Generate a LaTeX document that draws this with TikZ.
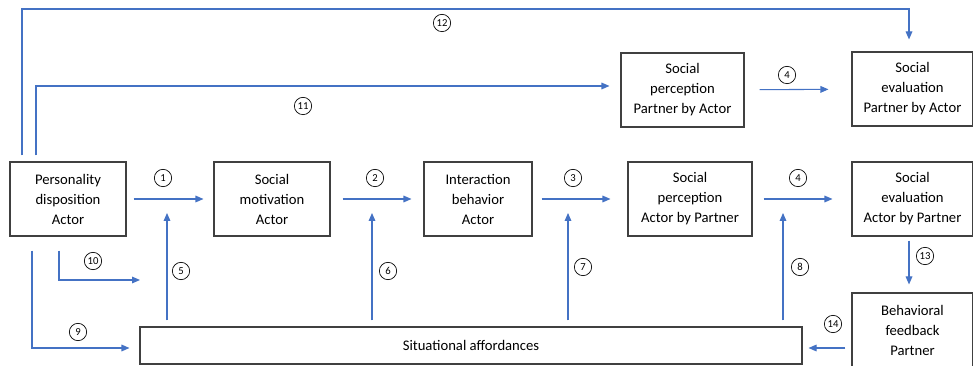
\documentclass[tikz,border=0pt]{standalone}
\usepackage{fontspec}
\setmainfont{Carlito}
\usetikzlibrary{arrows.meta}
\definecolor{arrowblue}{HTML}{4472C4}
\definecolor{boxgray}{HTML}{404040}

\begin{document}
\begin{tikzpicture}[x=0.75pt,y=-0.75pt,
    box/.style={draw=boxgray,line width=0.8pt,align=center,minimum height=55.5pt,
      font=\fontsize{11}{15}\selectfont,inner sep=0pt},
    arr/.style={draw=arrowblue,line width=0.8pt,-{Triangle[length=6pt,width=5pt]}},
    num/.style={draw=black,circle,line width=0.5pt,minimum size=13pt,inner sep=0pt,
      font=\fontsize{8}{8}\selectfont}]
    \useasboundingbox (0,0) rectangle (973,366);

    % The boxes of the actor row
    \node[box,minimum width=87pt] (pd) at (68,199) {Personality\\disposition\\Actor};
    \node[box,minimum width=87pt] (sm) at (272,199) {Social\\motivation\\Actor};
    \node[box,minimum width=81pt] (ib) at (478,199) {Interaction\\behavior\\Actor};
    \node[box,minimum width=93pt] (spa) at (690,199) {Social\\perception\\Actor by Partner};
    \node[box,minimum width=90.75pt] (sea) at (912.5,199) {Social\\evaluation\\Actor by Partner};

    % The boxes of the partner
    \node[box,minimum width=92.25pt] (spp) at (682.5,90) {Social\\perception\\Partner by Actor};
    \node[box,minimum width=90.75pt] (sep) at (912.5,89) {Social\\evaluation\\Partner by Actor};
    \node[box,minimum width=90.75pt] (bf) at (912.5,330) {Behavioral\\feedback\\Partner};

    % The situation
    \node[box,minimum width=496.5pt,minimum height=27.75pt] (sa) at (471,345.5) {Situational affordances};

    % Corners and tips of the arrows
    \coordinate (c5) at (167,213);
    \coordinate (c6) at (372,213);
    \coordinate (c7) at (568,213);
    \coordinate (c8) at (783,213);
    \coordinate (k9) at (32,348);
    \coordinate (k10) at (59,280);
    \coordinate (e10) at (140,280);
    \coordinate (k11) at (36,86);
    \coordinate (k12a) at (22,9);
    \coordinate (k12b) at (909,9);
    \coordinate (k14) at (846,348);

    % The main chain
    \draw[arr,shorten <=5.25pt,shorten >=7.5pt] (pd) -- (sm);
    \draw[arr,shorten <=9pt,shorten >=9pt] (sm) -- (ib);
    \draw[arr,shorten <=6.75pt,shorten >=12.75pt] (ib) -- (spa);
    \draw[arr,shorten <=8.25pt,shorten >=14.25pt] (spa) -- (sea);
    \draw[arr,shorten <=11.25pt,shorten >=17.25pt] (spp) -- (sep);

    % From the situation up
    \draw[arr,shorten <=4.5pt] (sa.north -| c5) -- (c5);
    \draw[arr,shorten <=4.5pt] (sa.north -| c6) -- (c6);
    \draw[arr,shorten <=4.5pt] (sa.north -| c7) -- (c7);
    \draw[arr,shorten <=4.5pt] (sa.north -| c8) -- (c8);

    % From the personality
    \draw[arr,shorten <=10.5pt,shorten >=7.5pt] (pd.south -| k9) -- (k9) -- (sa.west |- k9);
    \draw[arr,shorten <=10.5pt] (pd.south -| k10) -- (k10) -- (e10);
    \draw[arr,shorten <=4.5pt,shorten >=8.25pt] (pd.north -| k11) -- (k11) -- (spp.west |- k11);
    \draw[arr,shorten <=4.5pt,shorten >=9pt] (pd.north -| k12a) -- (k12a) -- (k12b) -- (sep.north -| k12b);

    % The feedback loop
    \draw[arr,shorten <=3pt,shorten >=6pt] (sea.south -| k12b) -- (bf.north -| k12b);
    \draw[arr,shorten <=4.5pt,shorten >=4.5pt] (bf.west |- k14) -- (sa.east |- k14);

    % The numbers
    \node[num] (n1) at (163,178) {1};
    \node[num] (n2) at (375,178) {2};
    \node[num] (n3) at (573,178) {3};
    \node[num] (n4) at (798,178) {4};
    \node[num] (n4b) at (787,75) {4};
    \node[num] (n5) at (181,271) {5};
    \node[num] (n6) at (388,271) {6};
    \node[num] (n7) at (583,267) {7};
    \node[num] (n8) at (800,267) {8};
    \node[num] (n9) at (78,332) {9};
    \node[num] (n10) at (93,261) {10};
    \node[num] (n11) at (303,106) {11};
    \node[num] (n12) at (442,23) {12};
    \node[num] (n13) at (925,256) {13};
    \node[num] (n14) at (833,324) {14};
\end{tikzpicture}
\end{document}
